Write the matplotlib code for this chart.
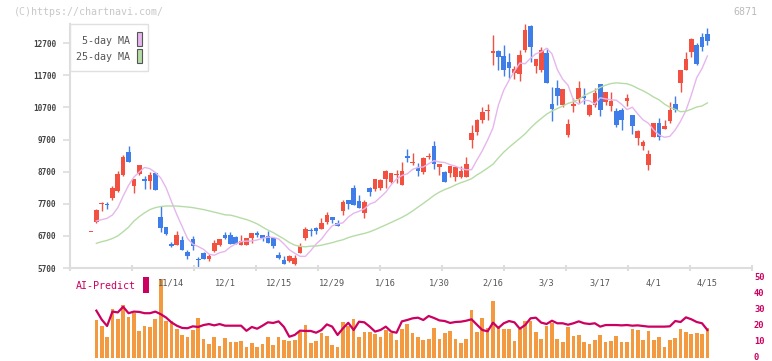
import numpy as np
import pandas as pd
import matplotlib
matplotlib.use('Agg')
import matplotlib.pyplot as plt

# daily candles (index 0 = first day on chart)
open_p = [6820, 7144, 7690, 7693, 7891, 8099, 8597, 9303, 8255, 8639,
          8462, 8421, 8660, 7289, 6978, 6438, 6428, 6583, 6199, 6604,
          5992, 6158, 5982, 6230, 6417, 6729, 6729, 6656, 6417, 6417,
          6625, 6791, 6729, 6697, 6625, 6106, 5950, 5919, 5826, 6168,
          6646, 6874, 6947, 6915, 7144, 7289, 7113, 7476, 7818, 8192,
          7787, 7424, 8192, 8151, 8183, 8474, 8380, 8588, 8297, 9169,
          8962, 8816, 8702, 9148, 9501, 8858, 8692, 8650, 8546, 8546,
          8546, 9688, 9937, 10311, 10591, 12408, 12469, 12304, 12127, 11785,
          11743, 12491, 13227, 11993, 11868, 12387, 10809, 11307, 10768, 9844,
          10757, 10965, 11058, 10467, 10778, 11432, 10882, 10757, 10591, 10633,
          10913, 10467, 9761, 9501, 8910, 9792, 10217, 10031, 10280, 10799,
          11474, 11868, 12439, 12647, 12885, 12989]
high_p = [6830, 7528, 7767, 7756, 8255, 8711, 9220, 9511, 8462, 8909,
          8566, 8691, 8691, 7632, 6978, 6511, 6864, 6708, 6251, 6708,
          6033, 6210, 6127, 6563, 6614, 6812, 6812, 6697, 6718, 6625,
          6791, 6853, 6729, 6853, 6625, 6199, 6075, 6106, 6095, 6479,
          6978, 6957, 6988, 7258, 7445, 7289, 7196, 7818, 7818, 8286,
          7974, 7818, 8234, 8462, 8474, 8754, 8671, 8754, 9003, 9408,
          9273, 8982, 9169, 9273, 9657, 8941, 8733, 8889, 8858, 8889,
          9169, 10155, 10352, 10705, 10809, 12958, 12500, 12647, 12408, 11977,
          12491, 13300, 13269, 12211, 12574, 12543, 11339, 11557, 11276, 10342,
          11007, 11525, 11297, 10809, 11297, 11432, 11193, 11193, 10674, 10674,
          11110, 10467, 10000, 9688, 9377, 10217, 10363, 10311, 10861, 11058,
          11868, 12439, 12854, 12699, 13010, 13165]
low_p = [6810, 7113, 7487, 7538, 7819, 8057, 8566, 9002, 8047, 8608,
         8172, 8151, 8140, 6832, 6718, 6345, 6428, 6251, 5981, 6262,
         5711, 5971, 5929, 6199, 6386, 6594, 6459, 6448, 6417, 6417,
         6490, 6656, 6542, 6490, 6313, 5971, 5815, 5888, 5794, 6168,
         6563, 6708, 6770, 6915, 7061, 7113, 7019, 7362, 7538, 7652,
         7580, 7268, 7953, 8109, 8130, 8204, 8339, 8339, 8297, 9014,
         8910, 8578, 8629, 9097, 8785, 8598, 8370, 8546, 8422, 8515,
         8546, 9450, 9844, 10228, 10311, 12024, 11868, 11681, 11608, 11588,
         11535, 12419, 12127, 11784, 11816, 11463, 10290, 10778, 10705, 9792,
         10570, 10851, 10809, 10446, 10726, 10446, 10778, 10602, 10103, 10000,
         10757, 9875, 9533, 9377, 8754, 9771, 9688, 10031, 10207, 10570,
         11193, 11868, 12283, 12024, 12470, 12647]
close_p = [6820, 7507, 7710, 7662, 8192, 8628, 9168, 9002, 8462, 8909,
           8421, 8597, 8140, 6957, 6760, 6386, 6729, 6262, 6075, 6396,
           5940, 5992, 6085, 6469, 6604, 6635, 6459, 6448, 6542, 6625,
           6791, 6729, 6625, 6490, 6396, 6012, 5826, 6075, 6012, 6386,
           6915, 6843, 6853, 7113, 7351, 7196, 7019, 7756, 7704, 7652,
           7580, 7766, 8067, 8462, 8440, 8723, 8650, 8629, 8723, 9138,
           9014, 8733, 9128, 9200, 8930, 8941, 8391, 8889, 8858, 8723,
           8941, 9917, 10311, 10550, 10622, 12449, 12263, 11868, 11940, 11899,
           12335, 13114, 12574, 12211, 12491, 11463, 10664, 11069, 11276, 10176,
           10809, 11297, 10986, 10778, 11141, 10633, 11172, 10903, 10155, 10311,
           10996, 10135, 9969, 9626, 9252, 10217, 9792, 10124, 10622, 10622,
           11868, 12200, 12823, 12055, 12574, 12782]

# moving averages before the window is full
ma5_head = [7165, 7206, 7248, 7352]
ma25_head = [6469, 6520, 6560, 6620, 6700, 6830, 6970, 7160, 7300, 7420,
             7520, 7580, 7615, 7630, 7632, 7630, 7615, 7600, 7580, 7550,
             7520, 7480, 7440, 7400]

# AI-Predict panel, days 1..115
ai_bar = [23.75, 20.2, 13.1, 30.6, 24.4, 33.1, 25.6, 27.9, 16.9, 20,
          19.4, 24.4, 49.2, 23.1, 22.9, 17.9, 14.4, 13.1, 17.7, 25,
          11.9, 8.75, 12.9, 7.5, 12.5, 10.2, 10.2, 10.8, 6.9, 9.6,
          6.9, 8.75, 13.1, 8.1, 13.1, 11.25, 10.8, 11.25, 16.25, 20.6,
          9.4, 10.6, 15.6, 13.5, 8.1, 6.7, 22.7, 20.2, 24.4, 13.1,
          16.5, 16.5, 15.2, 13.1, 17.5, 15.4, 11.25, 18.1, 21.25, 15.4,
          12.9, 11.25, 11.7, 18.75, 11.9, 15.6, 16.9, 11.9, 9.6, 11.9,
          30, 16.25, 25, 18.5, 35.6, 20.2, 18.1, 18.1, 10.8, 18.1,
          23.1, 23.1, 16.5, 11.9, 20, 21.7, 11.9, 10.2, 19.6, 13.75,
          14.4, 10.2, 8.75, 11.25, 14.4, 10.2, 10.8, 13.75, 10.2, 10.2,
          18.1, 17.5, 11.25, 16.9, 11.25, 13.1, 7.1, 11.25, 12.5, 18.1,
          16.5, 15, 15.6, 15, 18.75]
ai_line = [29.6, 24, 20, 29, 28.5, 32, 28, 29, 28.8, 28,
           28, 29, 27.4, 25.3, 22.3, 20.2, 18.8, 18.6, 19.8, 19.4,
           20.6, 21.2, 20.4, 21.2, 20.2, 20.2, 20.2, 20.2, 17, 19.4,
           18.3, 20.2, 22.3, 21.9, 22.9, 19.4, 13.3, 14.4, 17.1, 16.9,
           16.9, 15.8, 17.5, 21, 19.6, 14.4, 18.5, 22, 17.5, 22.7,
           22.3, 19.6, 16.5, 17.5, 19.6, 16.5, 15.8, 22.9, 23.75, 24.8,
           25.2, 23.75, 26.25, 25, 23.5, 23.1, 21.9, 22.5, 22.7, 23.3,
           24.2, 20.8, 17.5, 16.7, 22.1, 18.75, 21.7, 23.1, 22.3, 18.3,
           20.6, 24.8, 25.2, 22.1, 21.25, 23.3, 21.7, 21.7, 20.8, 21.7,
           22.9, 21.7, 21.25, 21.7, 19.6, 20.6, 20.6, 20.6, 20.4, 20.6,
           20.2, 20.4, 20, 19.6, 19.6, 19.6, 19.6, 19.8, 23.1, 22.5,
           25.4, 24.2, 22.5, 21.7, 17.5]

date_idx = [15, 25, 35, 45, 55, 65, 75, 85, 95, 105, 115]
date_lbl = ['11/14', '12/1', '12/15', '12/29', '1/16', '1/30', '2/16',
            '3/3', '3/17', '4/1', '4/15']
price_ticks = [5700, 6700, 7700, 8700, 9700, 10700, 11700, 12700]

W, H = 772, 361
RED = '#f25142'
BLUE = '#3f7de8'
PINK = '#e6b6ee'
GREEN = '#b6dca6'
ORANGE = '#f39a40'
CRIMSON = '#cc0060'
AXC = '#dddddd'
MONO = 'DejaVu Sans Mono'

n = len(close_p)
x = np.arange(n)
cs = pd.Series(close_p, dtype=float)
ma5 = cs.rolling(5).mean().shift(1).to_numpy()
ma5[1:5] = ma5_head
ma25 = cs.rolling(25).mean().shift(1).to_numpy()
ma25[1:25] = ma25_head

# pixel -> data mapping for x: candle i sits at 91 + 5.36*i px
x0 = (70 - 91) / 5.36
x1 = (752 - 91) / 5.36

fig = plt.figure(figsize=(W / 100, H / 100), dpi=100)
ax = fig.add_axes([70 / W, 1 - 268 / H, 682 / W, 244 / H])
ax.set_xlim(x0, x1)
ax.set_ylim(5700, 13300)

for i in range(n):
    o, h, l, c = open_p[i], high_p[i], low_p[i], close_p[i]
    col = RED if c >= o else BLUE
    ax.vlines(i, l, h, color=col, lw=1.0)
    body = max(abs(c - o), 35)
    ax.bar(i, body, bottom=min(o, c), width=0.86, color=col, lw=0)

ax.plot(x, ma5, color=PINK, lw=1.0)
ax.plot(x, ma25, color=GREEN, lw=1.0)

for s in ['top', 'right']:
    ax.spines[s].set_visible(False)
ax.spines['left'].set_color(AXC)
ax.spines['left'].set_linewidth(1.5)
ax.spines['bottom'].set_color(AXC)
ax.spines['bottom'].set_linewidth(1.5)
ax.set_yticks(price_ticks)
ax.set_yticklabels([str(v) for v in price_ticks])
ax.tick_params(axis='y', length=5, width=1.2, color=AXC, pad=5,
               labelsize=5.6, labelcolor='#444')
for t in ax.get_yticklabels():
    t.set_family(MONO)
    t.set_weight('bold')
ax.set_xticks(np.linspace(x0, x1, 12))
ax.set_xticklabels([])
ax.tick_params(axis='x', length=5, width=1.5, color=AXC, direction='inout')

# date labels between the panels
for i, lab in zip(date_idx, date_lbl):
    px = 91 + 5.36 * i
    fig.text(px / W, 1 - 283 / H, lab, ha='center', va='center',
             family=MONO, fontsize=6.2, color='#555')

# legend box
fig.patches.append(plt.Rectangle((70 / W, 1 - 71 / H), 78 / W, 47 / H,
                                 transform=fig.transFigure, fc='white',
                                 ec='#e0e0e0', lw=1.0, zorder=5))
fig.text(130 / W, 1 - 41 / H, '5-day MA', ha='right', va='center',
         family=MONO, fontsize=7.2, color='#555', zorder=6)
fig.text(130 / W, 1 - 57 / H, '25-day MA', ha='right', va='center',
         family=MONO, fontsize=7.2, color='#555', zorder=6)
fig.patches.append(plt.Rectangle((137 / W, 1 - 46 / H), 5 / W, 14 / H,
                                 transform=fig.transFigure, fc=PINK,
                                 ec='#555', lw=0.8, zorder=6))
fig.patches.append(plt.Rectangle((137 / W, 1 - 63 / H), 5 / W, 14 / H,
                                 transform=fig.transFigure, fc=GREEN,
                                 ec='#555', lw=0.8, zorder=6))

fig.text(14 / W, 1 - 12 / H, '(C)https://chartnavi.com/', ha='left',
         va='center', family=MONO, fontsize=7.2, color='#c8c8c8')
fig.text(757 / W, 1 - 12 / H, '6871', ha='right', va='center',
         family=MONO, fontsize=7.2, color='#bbbbbb')

# AI-Predict panel
ax2 = fig.add_axes([70 / W, 1 - 358 / H, 682 / W, 80 / H])
ax2.set_xlim(x0, x1)
ax2.set_ylim(0, 50)
xa = np.arange(1, len(ai_bar) + 1)
ax2.bar(xa, ai_bar, width=0.68, color=ORANGE, lw=0)
ax2.plot(xa, ai_line, color=CRIMSON, lw=1.6)
ax2.axis('off')
for v in range(0, 60, 10):
    py = 358 - v * 1.6
    fig.text(754 / W, 1 - py / H, str(v), ha='left', va='center',
             family=MONO, fontsize=6.3, weight='bold', color=CRIMSON)

fig.text(76 / W, 1 - 286 / H, 'AI-Predict', ha='left', va='center',
         family=MONO, fontsize=7.2, color=CRIMSON)
fig.patches.append(plt.Rectangle((143 / W, 1 - 293 / H), 6 / W, 16 / H,
                                 transform=fig.transFigure, fc=CRIMSON,
                                 ec='none'))

fig.savefig('out.png', dpi=100)
